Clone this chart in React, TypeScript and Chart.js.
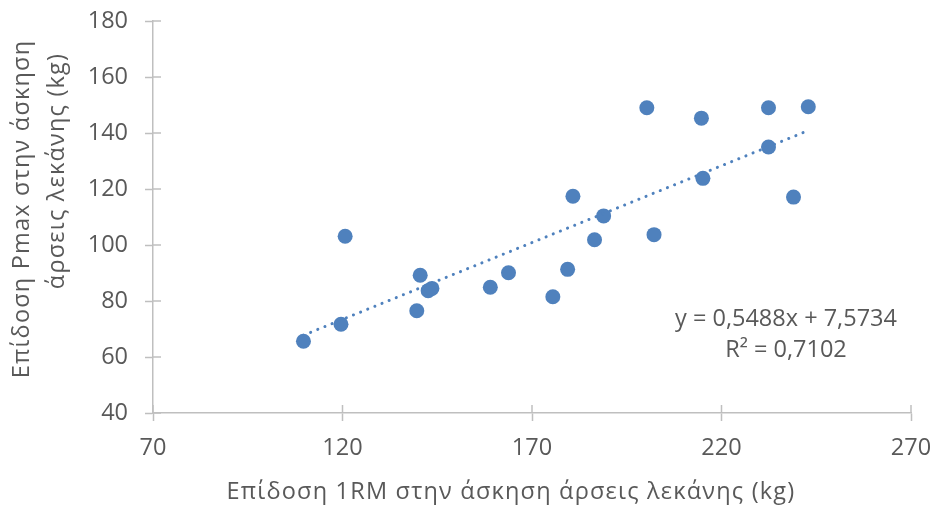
import { useEffect, useRef } from "react";
import { Chart, registerables } from "chart.js";

Chart.register(...registerables);

// 1RM performance (kg) – x values
const rmValues = [109.7, 119.6, 120.7, 139.6, 140.5, 142.6, 143.6, 159.0, 163.8, 175.5, 179.4, 180.8, 186.5, 188.9, 200.3, 202.2, 214.7, 215.1, 232.4, 232.4, 239.0, 242.9];
// Pmax performance (kg) – y values
const pmaxValues = [65.6, 71.7, 103.1, 76.5, 89.2, 83.7, 84.5, 84.9, 90.1, 81.5, 91.3, 117.4, 101.9, 110.4, 149.0, 103.7, 145.3, 123.8, 149.0, 135.0, 117.1, 149.4];

// Linear trendline shown on the chart
const trendSlope = 0.5488;
const trendIntercept = 7.5734;
const equationLabel = "y = 0,5488x + 7,5734";
const r2Label = "R² = 0,7102";

const xTicks = [70, 120, 170, 220, 270];
const yTicks = [40, 60, 80, 100, 120, 140, 160, 180];

const xTitle = "Επίδοση 1RM στην άσκηση άρσεις λεκάνης (kg)";
const yTitleLines = ["Επίδοση Pmax στην άσκηση", "άρσεις λεκάνης (kg)"];

const FONT_FAMILY = '"Open Sans", sans-serif';
const FONT_SIZE = 23.5;
const TEXT_COLOR = "#595959";
const AXIS_COLOR = "#BFBFBF";
const POINT_COLOR = "#4F81BD";

export default function App() {
  const canvasRef = useRef<HTMLCanvasElement | null>(null);

  useEffect(() => {
    document.body.style.margin = "0";
    const canvas = canvasRef.current;
    if (!canvas) return;

    const points = rmValues.map((x, i) => ({ x, y: pmaxValues[i] }));
    const xMin = Math.min(...rmValues);
    const xMax = Math.max(...rmValues);
    const trendPoints = [
      { x: xMin, y: trendSlope * xMin + trendIntercept },
      { x: xMax, y: trendSlope * xMax + trendIntercept },
    ];

    const crossTicks = {
      id: "crossTicks",
      afterDatasetsDraw(chart: any) {
        const { ctx, chartArea, scales } = chart;
        ctx.save();
        ctx.strokeStyle = AXIS_COLOR;
        ctx.lineWidth = 1.5;
        for (const v of xTicks) {
          const px = scales.x.getPixelForValue(v);
          ctx.beginPath();
          ctx.moveTo(px, chartArea.bottom);
          ctx.lineTo(px, chartArea.bottom - 8);
          ctx.stroke();
        }
        for (const v of yTicks) {
          const py = scales.y.getPixelForValue(v);
          ctx.beginPath();
          ctx.moveTo(chartArea.left, py);
          ctx.lineTo(chartArea.left + 8, py);
          ctx.stroke();
        }
        ctx.restore();
      },
    };

    const titles = {
      id: "titles",
      afterDraw(chart: any) {
        const { ctx, chartArea } = chart;
        ctx.save();
        ctx.font = `${FONT_SIZE}px ${FONT_FAMILY}`;
        ctx.fillStyle = TEXT_COLOR;
        ctx.textAlign = "center";
        ctx.textBaseline = "middle";
        // trendline equation
        const ex = chartArea.right - 125;
        ctx.fillText(equationLabel, ex, chartArea.top + 298);
        ctx.fillText(r2Label, ex, chartArea.top + 329);
        // axis titles (slightly wider spacing like the original face)
        (ctx as any).letterSpacing = "1.2px";
        const cx = (chartArea.left + chartArea.right) / 2 - 21;
        ctx.fillText(xTitle, cx, chartArea.bottom + 79);
        ctx.save();
        ctx.translate(chartArea.left - 131, chartArea.top + 188);
        ctx.rotate(-Math.PI / 2);
        ctx.fillText(yTitleLines[0], 0, 0);
        ctx.restore();
        ctx.save();
        ctx.translate(chartArea.left - 96, chartArea.top + 150);
        ctx.rotate(-Math.PI / 2);
        ctx.fillText(yTitleLines[1], 0, 0);
        ctx.restore();
        ctx.restore();
      },
    };

    const chart = new Chart(canvas, {
      type: "scatter",
      data: {
        datasets: [
          {
            label: "Trendline",
            data: trendPoints,
            showLine: true,
            borderColor: POINT_COLOR,
            borderWidth: 3,
            borderDash: [0.1, 7.6],
            borderCapStyle: "round",
            pointRadius: 0,
            pointHoverRadius: 0,
            fill: false,
          },
          {
            label: "Data",
            data: points,
            backgroundColor: POINT_COLOR,
            borderColor: POINT_COLOR,
            borderWidth: 0,
            pointRadius: 7.5,
            pointHoverRadius: 7.5,
          },
        ],
      },
      options: {
        animation: false,
        responsive: true,
        maintainAspectRatio: false,
        layout: { padding: { top: 21, right: 23, left: 0, bottom: 0 } },
        plugins: {
          legend: { display: false },
          tooltip: { enabled: false },
        },
        scales: {
          x: {
            type: "linear",
            min: 70,
            max: 270,
            afterBuildTicks: (scale: any) => {
              scale.ticks = xTicks.map((v) => ({ value: v }));
            },
            afterFit: (scale: any) => {
              scale.height = 94;
              scale.paddingLeft = 0;
              scale.paddingRight = 0;
            },
            grid: {
              display: true,
              drawOnChartArea: false,
              drawTicks: true,
              tickLength: 8,
              tickColor: AXIS_COLOR,
              tickWidth: 1.5,
              color: AXIS_COLOR,
            },
            border: { display: true, color: AXIS_COLOR, width: 1.5 },
            ticks: {
              color: TEXT_COLOR,
              font: { family: FONT_FAMILY, size: FONT_SIZE },
              padding: 13,
              maxRotation: 0,
            },
            title: { display: false },
          },
          y: {
            type: "linear",
            min: 40,
            max: 180,
            afterBuildTicks: (scale: any) => {
              scale.ticks = yTicks.map((v) => ({ value: v }));
            },
            afterFit: (scale: any) => {
              scale.width = 153;
              scale.paddingTop = 0;
              scale.paddingBottom = 0;
            },
            grid: {
              display: true,
              drawOnChartArea: false,
              drawTicks: true,
              tickLength: 8,
              tickColor: AXIS_COLOR,
              tickWidth: 1.5,
              color: AXIS_COLOR,
            },
            border: { display: true, color: AXIS_COLOR, width: 1.5 },
            ticks: {
              color: TEXT_COLOR,
              font: { family: FONT_FAMILY, size: FONT_SIZE },
              padding: 17,
            },
            title: { display: false },
          },
        },
      },
      plugins: [crossTicks, titles],
    });

    return () => chart.destroy();
  }, []);

  return (
    <div style={{ width: 934, height: 507, position: "relative", background: "#fff" }}>
      <canvas ref={canvasRef} />
    </div>
  );
}
